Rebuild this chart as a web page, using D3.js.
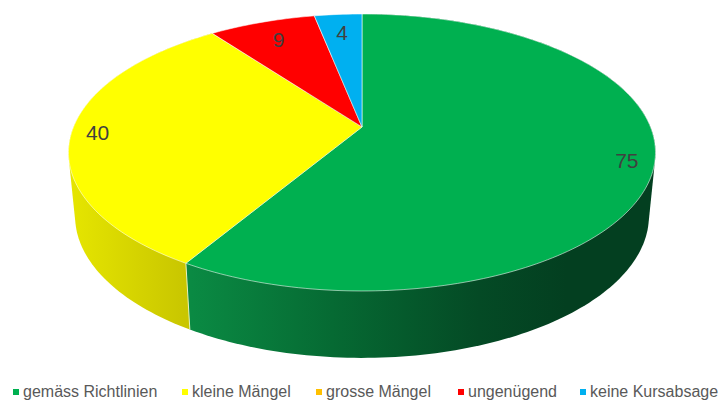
<!DOCTYPE html>
<html>
<head>
<meta charset="utf-8">
<script src="https://cdnjs.cloudflare.com/ajax/libs/d3/7.8.5/d3.min.js"></script>
<style>
  html, body { margin: 0; padding: 0; background: #fff; }
  svg { display: block; }
  text { font-family: "Liberation Sans", Arial, sans-serif; }
</style>
</head>
<body>
<div id="chart"></div>
<script>
// data
var categories = ["gemäss Richtlinien", "kleine Mängel", "grosse Mängel", "ungenügend", "keine Kursabsage"];
var values = [75, 40, 0, 9, 4];
var colors = ["#00b050", "#ffff00", "#ffc000", "#ff0000", "#00b0f0"];

var width = 721, height = 403;

var svg = d3.select("#chart").append("svg")
    .attr("width", width)
    .attr("height", height);

// tilted disc: unit circle is projected with a perspective term
var persp = -0.184;
var topFace = {cx: 362, cy: 127, a: 288.5, b: 133.8};
var bottomFace = {cx: 362, cy: 190, a: 282, b: 137};

function project(face, angle, r) {
    var u = Math.sin(angle) * r,
        v = -Math.cos(angle) * r,
        w = 1 + persp * v;
    return [face.cx + face.a * u / w, face.cy + face.b * v / w];
}

var pie = d3.pie().sort(null).value(function(d) { return d; });
var arcs = pie(values);

var line = d3.line();

// points along the rim between two angles
function rim(face, a0, a1) {
    var n = Math.max(2, Math.ceil((a1 - a0) / 0.02));
    return d3.range(n + 1).map(function(i) {
        return project(face, a0 + (a1 - a0) * i / n, 1);
    });
}

// side wall gradients
var defs = svg.append("defs");
function sideGradient(id, stops) {
    var g = defs.append("linearGradient")
        .attr("id", id)
        .attr("gradientUnits", "userSpaceOnUse")
        .attr("x1", 68).attr("x2", 655)
        .attr("y1", 0).attr("y2", 0);
    stops.forEach(function(s) {
        g.append("stop").attr("offset", s[0]).attr("stop-color", s[1]);
    });
}
sideGradient("side0", [[0.21, "#0a8a43"], [0.45, "#066a33"], [0.7, "#044a25"], [0.85, "#033f20"], [1, "#033f20"]]);
sideGradient("side1", [[0, "#e6e600"], [0.2, "#c9c600"]]);

// walls: hull of both rims so the silhouette edge is straight.
// yellow goes first, the green hull covers its inner corner
svg.append("g").selectAll("path")
    .data(arcs.slice(0, 2).reverse())
    .enter()
    .append("path")
    .attr("d", function(d) {
        var pts = rim(topFace, d.startAngle, d.endAngle)
            .concat(rim(bottomFace, d.startAngle, d.endAngle));
        return line(d3.polygonHull(pts)) + "Z";
    })
    .attr("fill", function(d) { return "url(#side" + d.index + ")"; });

// seam between the green and yellow walls
var seam = arcs[0].endAngle;
svg.append("path")
    .attr("d", line([project(topFace, seam, 1), project(bottomFace, seam, 1)]))
    .attr("stroke", "#e8f2c0")
    .attr("stroke-width", 1)
    .attr("fill", "none");

// top face
svg.append("g").selectAll("path")
    .data(arcs.filter(function(d) { return d.value > 0; }))
    .enter()
    .append("path")
    .attr("d", function(d) {
        var pts = [[topFace.cx, topFace.cy]].concat(rim(topFace, d.startAngle, d.endAngle));
        return line(pts) + "Z";
    })
    .attr("fill", function(d) { return colors[d.index]; })
    .attr("stroke", "#ffffff")
    .attr("stroke-opacity", 0.55)
    .attr("stroke-width", 1)
    .attr("stroke-linejoin", "round");

// data labels, the two thin slices sit further in
svg.append("g").selectAll("text")
    .data(arcs.filter(function(d) { return d.value > 0; }))
    .enter()
    .append("text")
    .attr("transform", function(d) {
        var r = d.value < 20 ? 0.81 : 0.91;
        return "translate(" + project(topFace, (d.startAngle + d.endAngle) / 2, r) + ")";
    })
    .attr("text-anchor", "middle")
    .attr("dy", "0.35em")
    .attr("font-size", 21)
    .attr("fill", "#404040")
    .text(function(d) { return d.value; });

// legend
var legendX = [23, 192, 326, 468, 590];
var legend = svg.append("g").selectAll("g")
    .data(categories)
    .enter()
    .append("g")
    .attr("transform", function(d, i) { return "translate(" + legendX[i] + ",397)"; });

legend.append("rect")
    .attr("x", -10).attr("y", -8)
    .attr("width", 6).attr("height", 6)
    .attr("fill", function(d, i) { return colors[i]; });

legend.append("text")
    .attr("font-size", 16)
    .attr("fill", "#595959")
    .text(function(d) { return d; });
</script>
</body>
</html>
